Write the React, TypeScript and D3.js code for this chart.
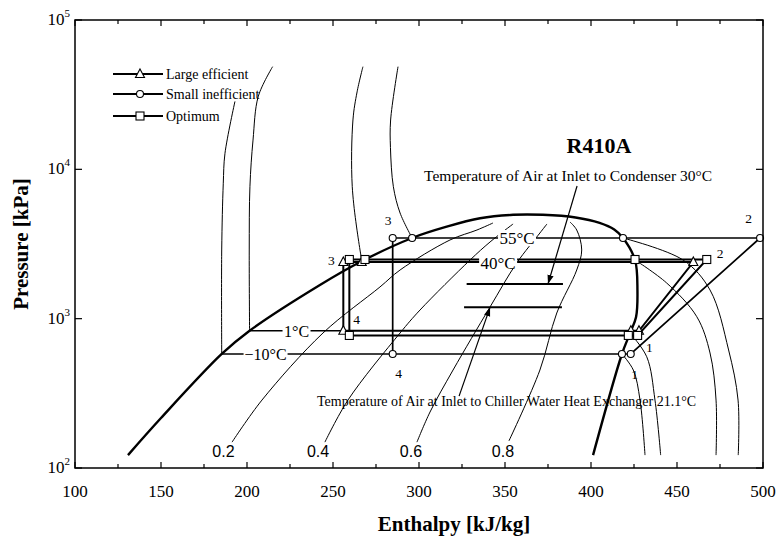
import React from 'react';
import * as d3 from 'd3';

type Pt = [number, number]; // [enthalpy kJ/kg, pressure kPa]

// saturation dome of R410A
const dome: Pt[] = [[130.8, 122], [150, 216], [185.3, 580], [201.5, 830], [242.4, 1680], [266.9, 2432], [296, 3469], [316.1, 4129], [335.5, 4700], [354.7, 4960], [372, 4960], [391, 4760], [405, 4380], [413.5, 3950], [418.6, 3469], [425.6, 2471], [427, 1556], [426.2, 1026], [422.7, 800], [418, 580], [401.2, 122]];

// isotherms, liquid side
const isoM10Liq: Pt[] = [[185.3, 580], [185.3, 2883], [186.2, 8000], [187.2, 12800], [193, 28500]];
const iso1Liq: Pt[] = [[201.5, 830], [201.3, 2883], [201.7, 7650], [203.5, 15700], [206.6, 30900], [214.9, 48700]];
const iso40Liq: Pt[] = [[266.9, 2432], [265.7, 2883], [261.2, 7650], [261.6, 21400], [264, 33000], [267.4, 48700]];
const iso55Liq: Pt[] = [[296, 3469], [289, 5100], [285.1, 7650], [283.4, 14000], [283.5, 21400], [287.8, 48700]];

// isotherms, superheated side
const supM10: Pt[] = [[418, 580], [424.6, 453], [428.5, 285], [431.4, 122]];
const sup1: Pt[] = [[422.7, 800], [432.4, 556], [437.2, 285], [440.5, 122]];
const sup40: Pt[] = [[425.6, 2471], [444, 1733], [461.5, 1031], [469.2, 589], [472.7, 285], [472.7, 122]];
const sup55: Pt[] = [[418.6, 3469], [453.5, 2471], [469.2, 1556], [480, 617], [485.5, 285], [485.6, 122]];

// isotherms in the two-phase region (left of the cycles)
const isoM10Wet: Pt[] = [[185.3, 580], [284.7, 580]];
const iso1Wet: Pt[] = [[201.5, 830], [256, 830]];

// constant quality lines
const q02: Pt[] = [[191.3, 149], [208.7, 285], [244.2, 802], [277.3, 1630], [289, 2118], [318, 3364], [333.7, 3924], [343, 4372]];
const q04: Pt[] = [[245.3, 149], [258.7, 285], [289, 802], [300.6, 1143], [329.7, 2471], [341.3, 3262], [354.7, 4306]];
const q06: Pt[] = [[298.8, 149], [306.4, 237], [319.8, 453], [341.3, 1197], [356.8, 2359], [370.3, 3747], [374.4, 4306]];
const q08: Pt[] = [[352.3, 152], [370.3, 453], [380.1, 1091], [391.7, 2118], [394.6, 2883], [391.7, 3924], [387.8, 4440]];
const qualityLines = [q02, q04, q06, q08];
const qualityLabels = ['0.2', '0.4', '0.6', '0.8'];
const qualityLabelH = [186.3, 241.3, 295.3, 348.8];

// cycles
const largeCycle: Pt[] = [[256, 2395], [459.5, 2395], [427.9, 830], [256, 830], [256, 2395]];
const optimumCycle: Pt[] = [[259.5, 2490], [467.3, 2490], [427.1, 772], [259.5, 772], [259.5, 2490]];
const smallCycle: Pt[] = [[284.7, 3469], [498.3, 3469], [423.1, 580], [284.7, 580], [284.7, 3469]];
const largeMarks: Pt[] = [[256, 2395], [266.7, 2395], [256, 830], [423.2, 830], [427.9, 830], [459.5, 2395]];
const optimumMarks: Pt[] = [[259.5, 2490], [268.6, 2490], [425.6, 2490], [467.3, 2490], [259.5, 772], [421.7, 772], [427.1, 772]];
const smallMarks: Pt[] = [[284.7, 3469], [296, 3469], [418.6, 3469], [498.3, 3469], [284.7, 580], [418, 580], [423.1, 580]];

// state point numbers
const stateLabels: [number, number, string][] = [
  [282, 4578, '3'], [249.1, 2471, '3'], [263.7, 995, '4'], [288.1, 433, '4'],
  [491.6, 4721, '2'], [475, 2753, '2'], [434, 641, '1'], [425.3, 426, '1'],
];

// temperature labels sitting on the lines
const tempLabels: [number, number, string][] = [
  [357, 3469, '55°C'], [346, 2440, '40°C'], [228.8, 830, '1°C'], [210.8, 580, '−10°C'],
];

// air temperature lines and arrows
const condAir: Pt[] = [[327.7, 1707], [383.7, 1707]];
const chillAir: Pt[] = [[326.2, 1191], [383.1, 1191]];
const condArrow: Pt[] = [[391.9, 7735], [375, 1707]];
const chillArrow: Pt[] = [[323.3, 303], [341.3, 1191]];

const xLabels = [100, 150, 200, 250, 300, 350, 400, 450, 500];
const yDecades = [2, 3, 4, 5];

const W = 779;
const H = 540;
const M = { left: 75, right: 763, top: 20, bottom: 468 };
const serif = "'Liberation Serif', 'Times New Roman', serif";
const sans = "'Liberation Sans', Arial, sans-serif";

const x = d3.scaleLinear().domain([100, 500]).range([M.left, M.right]);
const y = d3.scaleLog().domain([100, 100000]).range([M.bottom, M.top]);

const smooth = d3.line<Pt>().x(d => x(d[0])).y(d => y(d[1])).curve(d3.curveCatmullRom.alpha(0.5));
const straight = d3.line<Pt>().x(d => x(d[0])).y(d => y(d[1]));

const Triangle = ({ cx, cy }: { cx: number; cy: number }) => (
  <path d={`M${cx},${cy - 5}L${cx + 4.5},${cy + 3.5}L${cx - 4.5},${cy + 3.5}Z`} fill="#fff" stroke="#000" strokeWidth={1.1} />
);
const Square = ({ cx, cy }: { cx: number; cy: number }) => (
  <rect x={cx - 4} y={cy - 4} width={8} height={8} fill="#fff" stroke="#000" strokeWidth={1.1} />
);
const Circle = ({ cx, cy }: { cx: number; cy: number }) => (
  <circle cx={cx} cy={cy} r={3.5} fill="#fff" stroke="#000" strokeWidth={1.1} />
);

const legendItems = [
  { label: 'Large efficient', Mark: Triangle },
  { label: 'Small inefficient', Mark: Circle },
  { label: 'Optimum', Mark: Square },
];
const legendY = [74, 94, 116];

const App = () => {
  const minorX = d3.range(100, 501, 25);
  return (
    <div style={{ position: 'absolute', left: 0, top: 0 }}>
      <svg width={W} height={H} style={{ display: 'block', background: '#fff' }}>
        <defs>
          <marker id="arr" viewBox="0 0 10 10" refX="10" refY="5" markerWidth="9" markerHeight="9" orient="auto" markerUnits="userSpaceOnUse">
            <path d="M0,1.5L10,5L0,8.5Z" fill="#000" />
          </marker>
        </defs>

        {/* thin property lines */}
        <g fill="none" stroke="#000" strokeWidth={1}>
          {[isoM10Liq, iso1Liq, iso40Liq, iso55Liq, supM10, sup1, sup40, sup55].map((d, i) => (
            <path key={'iso' + i} d={smooth(d) || ''} />
          ))}
          {qualityLines.map((d, i) => (
            <path key={'q' + i} d={smooth(d) || ''} />
          ))}
          {[isoM10Wet, iso1Wet].map((d, i) => (
            <path key={'w' + i} d={straight(d) || ''} strokeWidth={1.3} />
          ))}
        </g>

        {/* dome */}
        <path d={smooth(dome) || ''} fill="none" stroke="#000" strokeWidth={2.4} />

        {/* cycles */}
        <g fill="none" stroke="#000" strokeLinejoin="miter">
          <path d={straight(largeCycle) || ''} strokeWidth={2} />
          <path d={straight(optimumCycle) || ''} strokeWidth={2} />
          <path d={straight(smallCycle) || ''} strokeWidth={1.7} />
        </g>

        {/* air temperature lines */}
        <g fill="none" stroke="#000" strokeWidth={2}>
          <path d={straight(condAir) || ''} />
          <path d={straight(chillAir) || ''} />
        </g>
        <g fill="none" stroke="#000" strokeWidth={1.2}>
          <path d={straight(condArrow) || ''} markerEnd="url(#arr)" />
          <path d={straight(chillArrow) || ''} markerEnd="url(#arr)" />
        </g>

        {/* temperature labels */}
        {tempLabels.map(([h, p, t], i) => {
          const big = i < 2;
          const fs = big ? 17 : 16;
          const w = t.length * fs * 0.5 + 4;
          return (
            <g key={'t' + i}>
              <rect x={x(h) - w / 2} y={y(p) - 8} width={w} height={16} fill="#fff" />
              <text x={x(h)} y={y(p) + (i === 1 ? 8 : 6)} textAnchor="middle" fontFamily={serif} fontSize={fs}>{t}</text>
            </g>
          );
        })}

        {/* markers */}
        {largeMarks.map((d, i) => <Triangle key={'lm' + i} cx={x(d[0])} cy={y(d[1])} />)}
        {optimumMarks.map((d, i) => <Square key={'om' + i} cx={x(d[0])} cy={y(d[1])} />)}
        {smallMarks.map((d, i) => <Circle key={'sm' + i} cx={x(d[0])} cy={y(d[1])} />)}

        {/* state numbers */}
        {stateLabels.map(([h, p, t], i) => (
          <text key={'s' + i} x={x(h)} y={y(p)} dy="0.35em" textAnchor="middle" fontFamily={serif} fontSize={13.5}>{t}</text>
        ))}

        {/* quality labels */}
        {qualityLabels.map((t, i) => (
          <text key={'ql' + i} x={x(qualityLabelH[i])} y={457} textAnchor="middle" fontFamily={sans} fontSize={16}>{t}</text>
        ))}

        {/* annotations */}
        <text x={599} y={153} textAnchor="middle" fontFamily={serif} fontSize={22} fontWeight="bold">R410A</text>
        <text x={712} y={181} textAnchor="end" fontFamily={serif} fontSize={15.5}>Temperature of Air at Inlet to Condenser 30°C</text>
        <text x={317} y={406} textAnchor="start" fontFamily={serif} fontSize={14}>Temperature of Air at Inlet to Chiller Water Heat Exchanger 21.1°C</text>

        {/* legend */}
        {legendItems.map(({ label, Mark }, i) => (
          <g key={'lg' + i}>
            <line x1={113} x2={163} y1={legendY[i]} y2={legendY[i]} stroke="#000" strokeWidth={2} />
            <Mark cx={140} cy={legendY[i]} />
            <text x={166} y={legendY[i]} dy="0.35em" fontFamily={serif} fontSize={14}>{label}</text>
          </g>
        ))}

        {/* frame and ticks */}
        <rect x={M.left} y={M.top} width={M.right - M.left} height={M.bottom - M.top} fill="none" stroke="#000" strokeWidth={1.5} />
        {minorX.map(v => (
          <g key={'xt' + v} stroke="#000" strokeWidth={1.2}>
            <line x1={x(v)} x2={x(v)} y1={M.bottom} y2={M.bottom - (v % 50 === 0 ? 6 : 4)} />
            <line x1={x(v)} x2={x(v)} y1={M.top} y2={M.top + (v % 50 === 0 ? 6 : 4)} />
          </g>
        ))}
        {yDecades.map(e => (
          <g key={'yt' + e} stroke="#000" strokeWidth={1.2}>
            <line x1={M.left} x2={M.left + 7} y1={y(10 ** e)} y2={y(10 ** e)} />
            <line x1={M.right} x2={M.right - 7} y1={y(10 ** e)} y2={y(10 ** e)} />
          </g>
        ))}
        {xLabels.map(v => (
          <text key={'xl' + v} x={x(v)} y={497} textAnchor="middle" fontFamily={serif} fontSize={17}>{v}</text>
        ))}
        {yDecades.map(e => (
          <text key={'yl' + e} x={70} y={y(10 ** e) + 5} textAnchor="end" fontFamily={serif} fontSize={17}>
            10<tspan fontSize={11} dy={-8}>{e}</tspan>
          </text>
        ))}

        {/* axis titles */}
        <text x={454} y={531} textAnchor="middle" fontFamily={serif} fontSize={21} fontWeight="bold">Enthalpy [kJ/kg]</text>
        <text transform={`translate(28,${244}) rotate(-90)`} textAnchor="middle" fontFamily={serif} fontSize={21} fontWeight="bold">Pressure [kPa]</text>
      </svg>
    </div>
  );
};

export default App;
